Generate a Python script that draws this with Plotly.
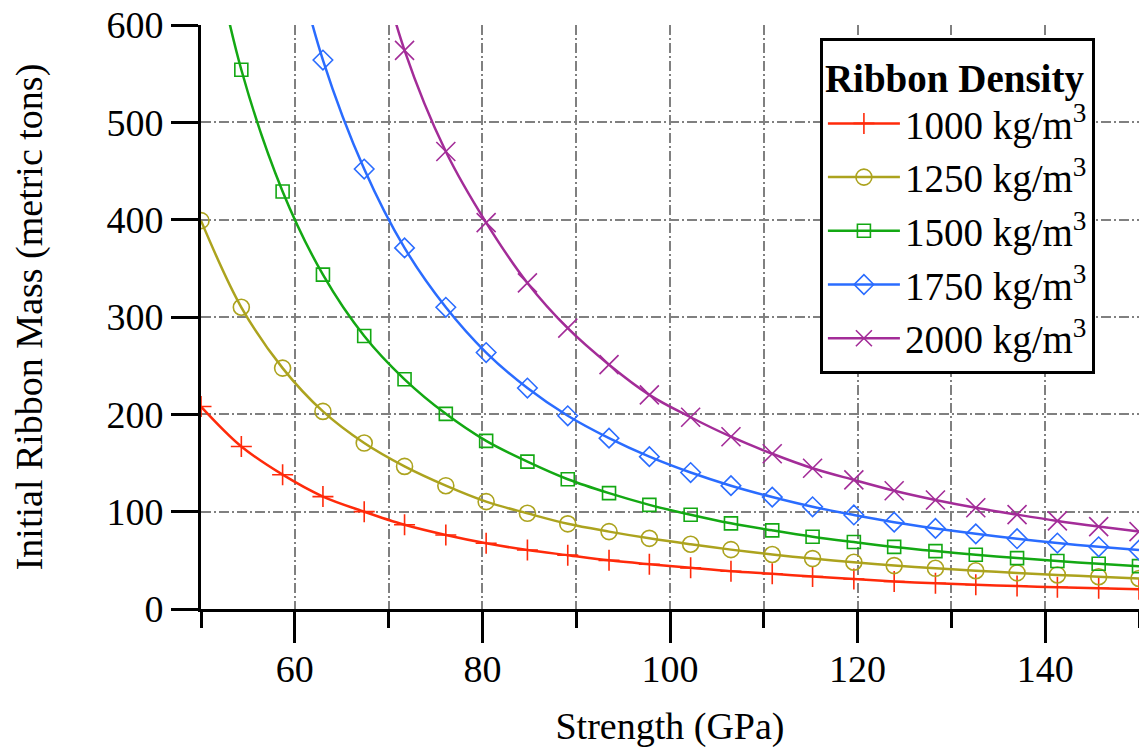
import plotly.graph_objects as go

# ---- data ----
strength_gpa = [50.0, 54.3, 58.7, 63.0, 67.4, 71.7, 76.1, 80.4, 84.8, 89.1, 93.5, 97.8,
                102.2, 106.5, 110.9, 115.2, 119.6, 123.9, 128.3, 132.6, 137.0, 141.3, 145.7, 150.0]

mass_1000 = [208, 167, 138, 115.5, 100, 86.5, 76, 67.5, 60.6, 55.3, 50, 46,
             42.3, 38.8, 36.2, 33.4, 30.8, 28.3, 26.4, 24.9, 23.6, 22.4, 21.3, 20.4]
mass_1250 = [399, 310, 247.5, 203, 170.5, 146.5, 126.7, 110.3, 98.3, 87.5, 79.5, 72.6,
             66.5, 61, 56, 51.8, 48, 44.6, 41.8, 39.3, 37.1, 35, 33.1, 31.3]
mass_1500 = [740, 554, 429, 343.5, 280.5, 236, 200.5, 172.7, 151.4, 133.3, 119, 107,
             96.8, 88, 80.8, 74.3, 68.8, 63.8, 59.5, 55.7, 52.3, 49.3, 46.5, 44]
mass_1750 = [None, None, 720, 564, 452, 371, 310, 263.5, 227, 198.5, 175.5, 156.5,
             140.2, 126.7, 115, 105, 96.6, 89.2, 82.8, 77.2, 72.2, 67.8, 63.9, 60.5]
mass_2000 = [None, None, None, None, 723, 574, 470, 397, 335, 288.5, 251, 220,
             197, 177, 159.5, 144.6, 132.6, 121.5, 112, 104, 97, 90.5, 84.7, 79.5]

series_names = ["1000 kg/m<sup>3</sup>", "1250 kg/m<sup>3</sup>", "1500 kg/m<sup>3</sup>",
                "1750 kg/m<sup>3</sup>", "2000 kg/m<sup>3</sup>"]
series_values = [mass_1000, mass_1250, mass_1500, mass_1750, mass_2000]
series_colors = ["#ff2a0a", "#aca31e", "#13a813", "#2a6cff", "#a32c98"]
series_symbols = ["cross-thin-open", "circle-open", "square-open", "diamond-open", "x-thin-open"]
series_sizes = [15, 16, 13, 15, 19]

y_ticks = [0, 100, 200, 300, 400, 500, 600]
x_major_ticks = [60, 80, 100, 120, 140]
x_minor_ticks = [50, 70, 90, 110, 130, 150]

FONT = "Liberation Serif"
GRID_DASH = "10px,3px,2px,3px"

fig = go.Figure()
for name, vals, col, sym, sz in zip(series_names, series_values, series_colors,
                                     series_symbols, series_sizes):
    fig.add_trace(go.Scatter(
        x=strength_gpa, y=vals, name=name, mode="lines+markers",
        line=dict(color=col, width=2.5, shape="spline", smoothing=1),
        marker=dict(symbol=sym, size=sz, color=col, line=dict(color=col, width=1.6)),
        cliponaxis=True,
    ))

fig.update_layout(
    width=1139, height=753,
    margin=dict(l=201, r=0, t=25, b=144),
    paper_bgcolor="white", plot_bgcolor="white",
    font=dict(family=FONT, size=38, color="black"),
    showlegend=True,
    legend=dict(
        title=dict(text="<b>Ribbon Density</b>", font=dict(family=FONT, size=39)),
        x=0.953, xanchor="right", y=0.978, yanchor="top",
        bgcolor="white", bordercolor="black", borderwidth=3,
        font=dict(family=FONT, size=39),
        tracegroupgap=0, itemwidth=72,
    ),
    xaxis=dict(
        range=[50, 150], showline=True, linecolor="black", linewidth=3,
        tickmode="array", tickvals=x_major_ticks, ticktext=[str(v) for v in x_major_ticks],
        ticks="outside", ticklen=31, tickwidth=3, tickcolor="black",
        showgrid=True, gridcolor="#808080", gridwidth=1.5, griddash=GRID_DASH,
        minor=dict(tickvals=x_minor_ticks, ticks="outside", ticklen=16, tickwidth=3,
                   tickcolor="black", showgrid=True, gridcolor="#808080", gridwidth=1.5,
                   griddash=GRID_DASH),
        zeroline=False,
        ticklabelstandoff=-7,
        title=dict(text="Strength (GPa)", standoff=24, font=dict(family=FONT, size=38)),
        tickfont=dict(size=38),
    ),
    yaxis=dict(
        range=[0, 600], showline=True, linecolor="black", linewidth=3,
        tickmode="array", tickvals=y_ticks,
        ticks="outside", ticklen=27, tickwidth=3, tickcolor="black",
        showgrid=True, gridcolor="#808080", gridwidth=1.5, griddash=GRID_DASH,
        zeroline=False,
        title=dict(text="Initial Ribbon Mass (metric tons)", standoff=53,
                   font=dict(family=FONT, size=38)),
        tickfont=dict(size=38),
    ),
)

fig.write_html("out.html")
